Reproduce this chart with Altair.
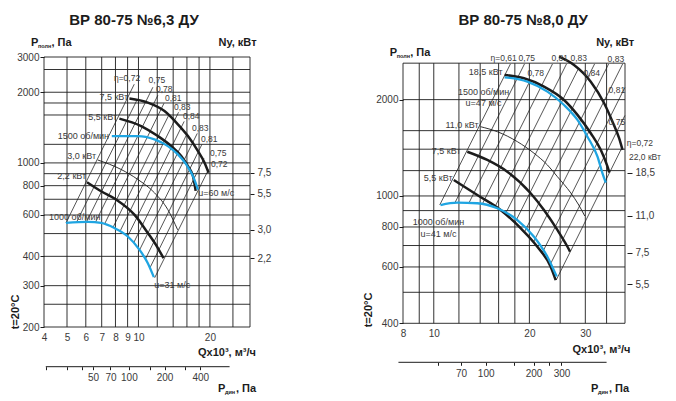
import json
import altair as alt
import pandas as pd

FONT = "Liberation Sans"
INK = "#1c1c1c"
TXT = "#3a3a3a"
BLUE = "#1fa5e2"
H = 270

# ================= Left chart: ВР 80-75 №6,3 ДУ =================
L_TITLE = "ВР 80-75 №6,3 ДУ"
L_Q_DOMAIN = [4, 29.5]
# the printed pressure scale is logarithmic, with its top decade slightly squeezed
L_P_DOMAIN = [200, 2500, 3000]
L_P_RANGE = [270, 12.5, 0]
L_P_VISIBLE = [200, 3000]
L_Q_GRID = [4, 5, 6, 7, 8, 9, 10, 12, 14, 16, 18, 20, 25, 29.5]
L_P_GRID = [200, 250, 300, 400, 500, 600, 700, 800, 900, 1000, 1200, 1600, 1800, 2000, 2500, 3000]
L_Q_LABELS = [4, 5, 6, 7, 8, 9, 10, 20]
L_P_LABELS = [200, 300, 400, 600, 800, 1000, 2000, 3000]

L_RPM1500_Q = [7.72, 9.94, 11.68, 13.3, 14.66, 15.9, 16.97, 17.81]
L_RPM1500_P = [1301, 1301, 1259, 1179, 1087, 985, 878, 770]
L_RPM1000_Q = [4.95, 6.12, 6.96, 7.92, 9.02, 10.09, 10.95, 11.61]
L_RPM1000_P = [555, 561, 555, 528, 486, 427, 374, 326]
L_N75_Q = [9.16, 10.95, 12.87, 14.66, 16.16, 17.81, 18.98, 19.74]
L_N75_P = [1880, 1807, 1663, 1460, 1301, 1122, 1002, 908]
L_N55_Q = [8.31, 10.26, 12.07, 13.74, 15.14, 16.16, 16.97, 17.42]
L_N55_P = [1544, 1436, 1301, 1179, 1069, 968, 878, 760]
L_N30_Q = [6.74, 8.45, 9.94, 11.68, 13.3, 14.62]
L_N30_P = [1029, 938, 850, 746, 632, 519]
L_N22_Q = [6.07, 6.96, 8.05, 9.61, 10.95, 12.07, 12.75]
L_N22_P = [827, 757, 698, 602, 503, 434, 393]

# efficiency (eta) lines: lower end (Q0, P0) -> upper end (Q1, P1)
L_ETA_Q0 = [4.95, 5.48, 6.04, 6.58, 7.19, 7.81, 8.35, 9.01, 9.54, 10.11, 10.69, 11.17, 11.70]
L_ETA_P0 = [555, 558, 560, 557, 548, 531, 510, 487, 456, 426, 389, 357, 324]
L_ETA_Q1 = [9.60, 9.85, 11.50, 12.07, 12.81, 13.41, 14.75, 15.58, 15.97, 17.69, 18.50, 18.88, 19.74]
L_ETA_P1 = [2164, 1851, 2101, 1942, 1795, 1595, 1643, 1503, 1323, 1336, 1199, 1045, 938]

L_ETA_TEXT = ["η=0,72", "0,75", "0,78", "0,81", "0,83", "0,84", "0,83", "0,81", "0,75", "0,72"]
L_ETA_TQ = [8.95, 11.95, 12.84, 14.01, 15.29, 16.69, 18.21, 19.87, 21.69, 21.90]
L_ETA_TP = [2300, 2262, 2064, 1889, 1729, 1582, 1406, 1261, 1099, 986]

L_RLAB_TEXT = ["7,5 кВт", "5,5 кВт", "1500 об/мин", "3,0 кВт", "2,2 кВт"]
L_RLAB_Q = [9.05, 8.13, 7.52, 6.63, 6.02]
L_RLAB_P = [1908, 1567, 1299, 1067, 876]
L_LLAB_TEXT = ["1000 об/мин", "u=60 м/с", "u=31 м/с"]
L_LLAB_Q = [4.20, 17.86, 11.65]
L_LLAB_P = [591, 748, 302]

L_NY_P = [907, 740, 519, 393]
L_NY_TEXT = ["7,5", "5,5", "3,0", "2,2"]
L_PD_Q = [4.07, 4.99, 5.76, 6.44, 7.62, 9.11, 11.16, 12.88, 15.78, 18.22]
L_PD_TEXT = ["", "", "", "50", "70", "100", "", "200", "", "400"]
L_PD_LINE = [4.07, 24.2]

# ================= Right chart: ВР 80-75 №8,0 ДУ =================
R_TITLE = "ВР 80-75 №8,0 ДУ"
R_Q_DOMAIN = [8, 40]
R_P_DOMAIN = [389.5, 2718]
R_P_RANGE = None
R_P_VISIBLE = [400, 2600]
R_Q_GRID = [8, 9, 10, 12, 14, 16, 18, 20, 25, 30, 35, 40]
R_P_GRID = [400, 500, 600, 700, 800, 900, 1000, 1200, 1400, 1600, 2000, 2600]
R_Q_LABELS = [8, 10, 20, 30]
R_P_LABELS = [400, 600, 800, 1000, 2000]

R_RPM1500_Q = [16.71, 19.71, 22.79, 25.71, 28.34, 30.47, 32.77, 33.98, 34.80]
R_RPM1500_P = [2349, 2276, 2118, 1924, 1728, 1532, 1327, 1177, 1100]
R_RPM1000_Q = [10.50, 11.85, 13.71, 15.85, 18.33, 20.68, 22.79, 24.38]
R_RPM1000_P = [937, 953, 949, 915, 841, 746, 646, 560]
R_N220_Q = [24.80, 27.64, 31.21, 34.39, 36.53, 38.33, 39.29]
R_N220_P = [2725, 2567, 2276, 1949, 1707, 1515, 1392]
R_N185_Q = [16.71, 19.23, 22.23, 25.71, 28.34, 31.21, 33.57, 35.24, 35.70]
R_N185_P = [2388, 2332, 2196, 1995, 1792, 1570, 1392, 1235, 1184]
R_N110_Q = [14.04, 15.85, 18.33, 20.68, 22.79, 24.50, 27.00, 28.61, 29.88]
R_N110_P = [1646, 1588, 1478, 1360, 1250, 1149, 1022, 937, 866]
R_N75_Q = [12.75, 14.74, 17.04, 20.18, 22.23, 24.50, 26.36, 26.86]
R_N75_P = [1375, 1296, 1191, 1020, 904, 783, 694, 670]
R_N55_Q = [11.56, 13.71, 16.23, 18.77, 21.19, 23.34, 24.20]
R_N55_P = [1122, 1007, 904, 793, 694, 601, 546]

R_ETA_Q0 = [10.44, 11.65, 12.90, 14.20, 15.54, 16.81, 17.97, 19.28, 20.59, 21.90, 23.19, 24.29]
R_ETA_P0 = [937, 951, 950, 941, 920, 879, 821, 770, 717, 661, 607, 546]
R_ETA_Q1 = [17.43, 19.30, 20.08, 23.64, 26.18, 28.50, 32.08, 35.52, 39.32, 39.96, 39.96, 39.09]
R_ETA_P1 = [2585, 2585, 2287, 2585, 2585, 2494, 2585, 2585, 2585, 2182, 1784, 1413]

R_ETA_TEXT = ["η=0,61", "0,75", "0,81", "0,83", "0,83", "0,78", "0,84", "0,81", "0,75", "η=0,72", "22,0 кВт"]
R_ETA_TQ = [16.59, 19.61, 24.92, 28.61, 37.43, 20.93, 31.44, 37.70, 37.70, 44.57, 46.22]
R_ETA_TP = [2700, 2700, 2700, 2700, 2680, 2423, 2423, 2144, 1704, 1464, 1324]

R_RLAB_TEXT = ["18,5 кВт", "11,0 кВт", "7,5 кВт", "5,5 кВт"]
R_RLAB_Q = [16.47, 13.84, 12.14, 11.46]
R_RLAB_P = [2441, 1667, 1382, 1138]
R_CLAB_TEXT = ["1500 об/мин", "u=47 м/с", "1000 об/мин", "u=41 м/с"]
R_CLAB_Q = [14.35, 14.35, 10.35, 10.35]
R_CLAB_P = [2110, 1955, 832, 763]

R_NY_P = [1180, 868, 665, 530]
R_NY_TEXT = ["18,5", "11,0", "7,5", "5,5"]
R_PD_Q = [10.30, 12.19, 14.57, 17.84, 20.61, 23.04, 25.24]
R_PD_TEXT = ["", "70", "100", "", "200", "", "300"]
R_PD_LINE = [7.74, 35.0]


def curve_df(pairs):
    rows = []
    for name, qs, ps in pairs:
        for i, (q, p) in enumerate(zip(qs, ps)):
            rows.append({"c": name, "i": i, "Q": q, "P": p})
    return pd.DataFrame(rows)


def lines(df, xs, ys, color, width):
    return alt.Chart(df).mark_line(color=color, strokeWidth=width, interpolate="monotone").encode(
        x=alt.X("Q:Q", scale=xs, axis=None),
        y=alt.Y("P:Q", scale=ys, axis=None),
        detail="c:N", order="i:Q")


def data_text(texts, qs, ps, xs, ys, align, size=9):
    df = pd.DataFrame({"t": texts, "Q": qs, "P": ps})
    return alt.Chart(df).mark_text(font=FONT, fontSize=size, color=TXT, align=align,
                                   baseline="middle").encode(
        x=alt.X("Q:Q", scale=xs, axis=None),
        y=alt.Y("P:Q", scale=ys, axis=None),
        text="t:N")


def px_text(text, x, y, size, weight="bold", align="left", angle=0, color=INK):
    return alt.Chart(pd.DataFrame({"t": [text]})).mark_text(
        font=FONT, fontSize=size, fontWeight=weight, align=align, baseline="middle",
        angle=angle, color=color).encode(x=alt.value(x), y=alt.value(y), text="t:N")


def arr_expr(vals, texts):
    return f"{json.dumps(texts, ensure_ascii=False)}[indexof({json.dumps(vals)}, datum.value)]"


def panel(cfg):
    xs = alt.Scale(type="log", domain=cfg["qdom"], nice=False)
    if cfg["prange"] is not None:
        ys = alt.Scale(type="log", domain=cfg["pdom"], range=cfg["prange"], nice=False)
    else:
        ys = alt.Scale(type="log", domain=cfg["pdom"], nice=False)
    qlo, qhi = cfg["qdom"]
    plo, phi = cfg["pvis"]

    vgrid = alt.Chart(pd.DataFrame({"Q": cfg["qgrid"], "p0": plo, "p1": phi})).mark_rule(
        color=INK, strokeWidth=0.9).encode(
        x=alt.X("Q:Q", scale=xs, axis=None), y=alt.Y("p0:Q", scale=ys, axis=None), y2="p1:Q")
    hgrid = alt.Chart(pd.DataFrame({"P": cfg["pgrid"], "q0": qlo, "q1": qhi})).mark_rule(
        color=INK, strokeWidth=0.9).encode(
        y=alt.Y("P:Q", scale=ys, axis=None), x=alt.X("q0:Q", scale=xs, axis=None), x2="q1:Q")

    eta = alt.Chart(pd.DataFrame({"q0": cfg["eq0"], "p0": cfg["ep0"], "q1": cfg["eq1"],
                                  "p1": cfg["ep1"]})).mark_rule(
        color=INK, strokeWidth=0.75).encode(
        x=alt.X("q0:Q", scale=xs, axis=None), y=alt.Y("p0:Q", scale=ys, axis=None),
        x2="q1:Q", y2="p1:Q")

    thin = lines(curve_df(cfg["thin"]), xs, ys, INK, 0.9)
    thick = lines(curve_df(cfg["thick"]), xs, ys, INK, 2.5)
    blue = lines(curve_df(cfg["blue"]), xs, ys, BLUE, 2.3)

    texts = [
        data_text(cfg["eta_t"], cfg["eta_q"], cfg["eta_p"], xs, ys, "center", size=8.5),
        data_text(cfg["rl_t"], cfg["rl_q"], cfg["rl_p"], xs, ys, "right"),
        data_text(cfg["ll_t"], cfg["ll_q"], cfg["ll_p"], xs, ys, cfg["ll_align"]),
    ]

    pd_line = alt.Chart(pd.DataFrame({"q0": [cfg["pdline"][0]], "q1": [cfg["pdline"][1]]})).mark_rule(
        color=INK, strokeWidth=1).encode(
        x=alt.X("q0:Q", scale=xs, axis=None), x2="q1:Q", y=alt.value(H + cfg["pd_off"]))

    lab = dict(labelFont=FONT, labelFontSize=10, labelColor=TXT, labelFlush=False,
               labelOverlap=False, grid=False, title=None, domain=False, tickColor=INK)
    axes_main = alt.Chart(pd.DataFrame({"Q": [qlo], "P": [plo]})).mark_point(opacity=0).encode(
        x=alt.X("Q:Q", scale=xs, axis=alt.Axis(values=cfg["qlab"], format="d", ticks=False,
                                                labelPadding=cfg["xpad"], **lab)),
        y=alt.Y("P:Q", scale=ys, axis=alt.Axis(values=cfg["plab"], format="d", ticks=True,
                                                tickSize=4, labelPadding=1, **lab)))
    axes_aux = alt.Chart(pd.DataFrame({"Q": [qlo], "P": [plo]})).mark_point(opacity=0).encode(
        x=alt.X("Q:Q", scale=xs, axis=alt.Axis(orient="bottom", values=cfg["pdq"],
                                                labelExpr=arr_expr(cfg["pdq"], cfg["pdt"]),
                                                offset=cfg["pd_off"], ticks=True, tickSize=3,
                                                labelPadding=3, **lab)),
        y=alt.Y("P:Q", scale=ys, axis=alt.Axis(orient="right", values=cfg["nyp"],
                                                labelExpr=arr_expr(cfg["nyp"], cfg["nyt"]),
                                                offset=cfg["ny_off"], ticks=True, tickSize=cfg["ny_tick"],
                                                labelPadding=3, **lab)))

    ox = cfg["txt"]
    deco = [
        px_text(cfg["title"], ox["title"][0], ox["title"][1], 15, align="center"),
        px_text("P", ox["pp"][0], ox["pp"][1], 11),
        px_text("полн", ox["pp"][0] + 7, ox["pp"][1] + 3, 5.5),
        px_text(", Па", ox["pp"][0] + 20.5, ox["pp"][1], 11),
        px_text("Ny, кВт", ox["ny"][0], ox["ny"][1], 11, align="center"),
        px_text("Qx10³, м³/ч", ox["qt"][0], ox["qt"][1], 11, align="center"),
        px_text("P", ox["pd"][0], ox["pd"][1], 11),
        px_text("дин", ox["pd"][0] + 7, ox["pd"][1] + 3, 5.5),
        px_text(", Па", ox["pd"][0] + 18, ox["pd"][1], 11),
        px_text("t=20°C", ox["t"][0], ox["t"][1], 11, angle=270, align="center"),
    ]

    return alt.layer(vgrid, hgrid, eta, thin, thick, blue, *texts, pd_line, axes_main, axes_aux,
                     *deco).resolve_axis(x="independent", y="independent").properties(
        width=cfg["w"], height=H)


left_cfg = dict(
    title=L_TITLE, qdom=L_Q_DOMAIN, pdom=L_P_DOMAIN, prange=L_P_RANGE, pvis=L_P_VISIBLE,
    qgrid=L_Q_GRID, pgrid=L_P_GRID, qlab=L_Q_LABELS, plab=L_P_LABELS, w=206, xpad=5,
    eq0=L_ETA_Q0, ep0=L_ETA_P0, eq1=L_ETA_Q1, ep1=L_ETA_P1,
    thin=[("3.0", L_N30_Q, L_N30_P)],
    thick=[("7.5", L_N75_Q, L_N75_P), ("5.5", L_N55_Q, L_N55_P), ("2.2", L_N22_Q, L_N22_P)],
    blue=[("1500", L_RPM1500_Q, L_RPM1500_P), ("1000", L_RPM1000_Q, L_RPM1000_P)],
    eta_t=L_ETA_TEXT, eta_q=L_ETA_TQ, eta_p=L_ETA_TP,
    rl_t=L_RLAB_TEXT, rl_q=L_RLAB_Q, rl_p=L_RLAB_P,
    ll_t=L_LLAB_TEXT, ll_q=L_LLAB_Q, ll_p=L_LLAB_P, ll_align="left",
    pdline=L_PD_LINE, pd_off=39.7, pdq=L_PD_Q, pdt=L_PD_TEXT,
    nyp=L_NY_P, nyt=L_NY_TEXT, ny_off=0, ny_tick=4,
    txt=dict(title=(90, -37), pp=(-13, -14), ny=(193.5, -14), qt=(183, 295.7),
             pd=(174, 332), t=(-28, 255)),
)

right_cfg = dict(
    title=R_TITLE, qdom=R_Q_DOMAIN, pdom=R_P_DOMAIN, prange=R_P_RANGE, pvis=R_P_VISIBLE,
    qgrid=R_Q_GRID, pgrid=R_P_GRID, qlab=R_Q_LABELS, plab=R_P_LABELS, w=222, xpad=1,
    eq0=R_ETA_Q0, ep0=R_ETA_P0, eq1=R_ETA_Q1, ep1=R_ETA_P1,
    thin=[("11.0", R_N110_Q, R_N110_P)],
    thick=[("22.0", R_N220_Q, R_N220_P), ("18.5", R_N185_Q, R_N185_P),
           ("7.5", R_N75_Q, R_N75_P), ("5.5", R_N55_Q, R_N55_P)],
    blue=[("1500", R_RPM1500_Q, R_RPM1500_P), ("1000", R_RPM1000_Q, R_RPM1000_P)],
    eta_t=R_ETA_TEXT, eta_q=R_ETA_TQ, eta_p=R_ETA_TP,
    rl_t=R_RLAB_TEXT, rl_q=R_RLAB_Q, rl_p=R_RLAB_P,
    ll_t=R_CLAB_TEXT, ll_q=R_CLAB_Q, ll_p=R_CLAB_P, ll_align="center",
    pdline=R_PD_LINE, pd_off=35.3, pdq=R_PD_Q, pdt=R_PD_TEXT,
    nyp=R_NY_P, nyt=R_NY_TEXT, ny_off=2, ny_tick=5,
    txt=dict(title=(120.2, -37), pp=(-13.3, -3.7), ny=(212.2, -14), qt=(198.5, 293),
             pd=(188, 332), t=(-34.3, 253)),
)

chart = alt.hconcat(panel(left_cfg), panel(right_cfg), spacing=91).properties(
    padding={"left": 2, "top": 5, "right": 2, "bottom": 2}
).configure_view(stroke=None)

chart.save("out.html", embed_options={"renderer": "svg", "actions": False})
